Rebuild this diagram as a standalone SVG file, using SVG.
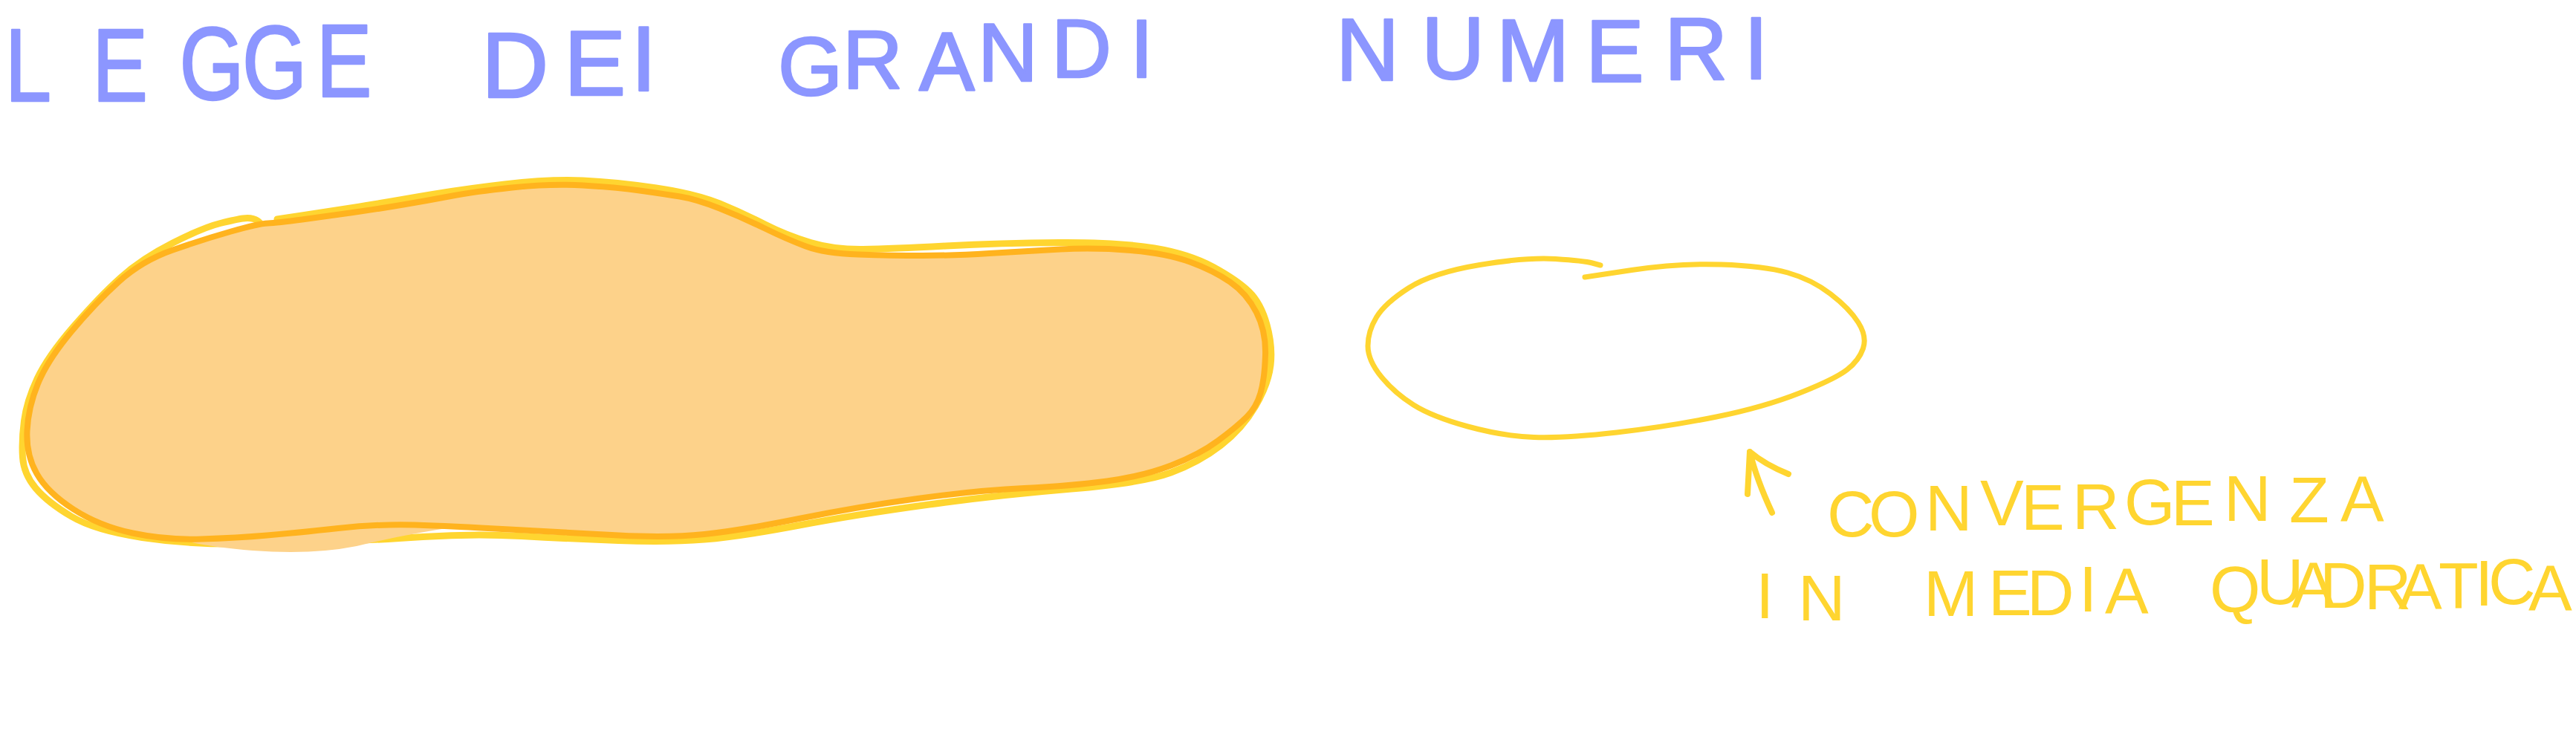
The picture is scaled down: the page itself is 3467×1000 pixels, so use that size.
<svg xmlns="http://www.w3.org/2000/svg" width="3467" height="1000" viewBox="0 0 3467 1000">
<style>
.title{fill:#8c96ff;stroke:#8c96ff;stroke-width:2.5px;stroke-linejoin:round;font-family:"Liberation Sans","DejaVu Sans",sans-serif;font-size:122px}
.note{fill:#ffd530;font-family:"Liberation Sans","DejaVu Sans",sans-serif;font-size:88px}
.ystroke{fill:none;stroke:#ffd530;stroke-linecap:round;stroke-linejoin:round}
.ostroke{fill:none;stroke:#ffb31e;stroke-linecap:round;stroke-linejoin:round}
.blobfill{fill:#fdd28a;stroke:none}
</style>
<rect width="3467" height="1000" fill="#ffffff"/>

<g id="title">
<text class="title" style="font-size:140px" transform="scale(0.8 1)" x="8.5 155.3 302 407.6 532.1" y="136 136 134 132 130">LEGGE</text>
<text class="title" style="font-size:125px" x="648 759 849" y="131 128 122">DEI</text>
<text class="title" style="font-size:112px" x="1047 1134 1237 1316 1415 1521" y="128 119 121 109 104 104">GRANDI</text>
<text class="title" style="font-size:118px" x="1798 1913 2014 2134 2240 2347" y="108 106 109 110 107 106">NUMERI</text>
</g>

<g id="blob">
<path class="ystroke" stroke-width="9" d="M373,295 L406.5,290 Q440,285 475,279.5 Q510,274 564.5,264.5 Q619,255 679.5,248 Q740,241 784.5,243 Q829,245 883,253 Q937,261 968.5,274 Q1000,287 1029.5,302 Q1059,317 1091,326.5 Q1123,336 1161.5,335.5 Q1200,335 1273,331 Q1346,327 1426,326.5 Q1506,326 1553.5,334 Q1601,342 1633,359.5 Q1665,377 1681,392.5 Q1697,408 1705,437 Q1713,466 1710,491.5 Q1707,517 1689.5,547 Q1672,577 1643,599.5 Q1614,622 1576,636 Q1538,650 1442,658 Q1346,666 1250.5,679 Q1155,692 1075.5,707 Q996,722 948,726 Q900,730 832.5,727.5 Q765,725 701.5,721.5 Q638,718 569,722.5 Q500,727 450,729 Q400,731 327.5,732 Q255,733 191.5,723.5 Q128,714 96,695 Q64,676 48,657 Q32,638 30.5,615.5 Q29,593 32.5,566.5 Q36,540 50,510 Q64,480 99,439.5 Q134,399 162.5,373.5 Q191,348 232.5,327 Q274,306 296.5,300.5 Q319,295 327,294 Q335,293 341,294.5 Q347,296 351,301"/>
<path class="blobfill" d="M360.5,300.5 Q373,300 406.5,295.5 Q440,291 475,286 Q510,281 542.5,275.5 Q575,270 606.5,264 Q638,258 689,252.5 Q740,247 784.5,249.5 Q829,252 861,256.5 Q893,261 915,264.5 Q937,268 968.5,280.5 Q1000,293 1029.5,307.5 Q1059,322 1084.5,331.5 Q1110,341 1155,342.5 Q1200,344 1241.5,344 Q1283,344 1331.5,341 Q1380,338 1427,335.5 Q1474,333 1522,337 Q1570,341 1601.5,352.5 Q1633,364 1655.5,379.5 Q1678,395 1691,420.5 Q1704,446 1703,478 Q1702,510 1696.5,529 Q1691,548 1678,561 Q1665,574 1639.5,593 Q1614,612 1576,626.5 Q1538,641 1490,647.5 Q1442,654 1378.5,657 Q1315,660 1235,671 Q1155,682 1075.5,698 Q996,714 948,719 Q900,724 832.5,720.5 Q765,717 685.5,712.5 Q606,708 558,706.5 Q510,705 455,711 Q400,717 359.5,720.5 Q319,724 271,725.5 Q223,727 178.5,717.5 Q134,708 99,685.5 Q64,663 49.5,637.5 Q35,612 36.5,580 Q38,548 51,516.5 Q64,485 96,446.5 Q128,408 159.5,379.5 Q191,351 232.5,336.5 Q274,322 311,311.5 Q348,301 360.5,300.5 Z"/>
<path class="blobfill" d="M620,708 Q540,720 480,735 Q420,747 340,741 Q290,737 258,730 L300,718 L500,700 Z"/>
<path class="ostroke" stroke-width="8" d="M360.5,300.5 Q373,300 406.5,295.5 Q440,291 475,286 Q510,281 542.5,275.5 Q575,270 606.5,264 Q638,258 689,252.5 Q740,247 784.5,249.5 Q829,252 861,256.5 Q893,261 915,264.5 Q937,268 968.5,280.5 Q1000,293 1029.5,307.5 Q1059,322 1084.5,331.5 Q1110,341 1155,342.5 Q1200,344 1241.5,344 Q1283,344 1331.5,341 Q1380,338 1427,335.5 Q1474,333 1522,337 Q1570,341 1601.5,352.5 Q1633,364 1655.5,379.5 Q1678,395 1691,420.5 Q1704,446 1703,478 Q1702,510 1696.5,529 Q1691,548 1678,561 Q1665,574 1639.5,593 Q1614,612 1576,626.5 Q1538,641 1490,647.5 Q1442,654 1378.5,657 Q1315,660 1235,671 Q1155,682 1075.5,698 Q996,714 948,719 Q900,724 832.5,720.5 Q765,717 685.5,712.5 Q606,708 558,706.5 Q510,705 455,711 Q400,717 359.5,720.5 Q319,724 271,725.5 Q223,727 178.5,717.5 Q134,708 99,685.5 Q64,663 49.5,637.5 Q35,612 36.5,580 Q38,548 51,516.5 Q64,485 96,446.5 Q128,408 159.5,379.5 Q191,351 232.5,336.5 Q274,322 311,311.5 Q348,301 360.5,300.5 Z"/>
</g>

<g id="ellipse">
<path class="ystroke" stroke-width="7" d="M2133,373 L2196,363.5 Q2259,354 2316.5,356 Q2374,358 2406,367 Q2438,376 2463.5,395.5 Q2489,415 2501,434 Q2513,453 2507.5,469 Q2502,485 2486,497.5 Q2470,510 2422,529 Q2374,548 2310,561 Q2246,574 2176,582 Q2106,590 2064.5,588.5 Q2023,587 1975.5,574 Q1928,561 1902.5,545 Q1877,529 1859,507 Q1841,485 1841,465.5 Q1841,446 1852.5,427 Q1864,408 1896,387.5 Q1928,367 1991.5,356.5 Q2055,346 2093.5,348.5 Q2132,351 2143,354 L2154,357"/>
</g>

<g id="connectors">
<path class="ystroke" stroke-width="8" d="M2385,690 Q2364,645 2355,608 M2352,665 L2355,608 Q2375,625 2407,638"/>
</g>

<g id="label">
<text class="note" x="2459 2515 2591 2665 2720 2789 2859 2922 2993 3081 3150" y="722 722 714 707 713 712 706 707 701 703 702">CONVERGENZA</text>
<text class="note" x="2363 2420" y="832 835">IN</text>
<text class="note" x="2589 2676 2728 2798 2833" y="829 828 828 823 826">MEDIA</text>
<text class="note" x="2974 3037 3084 3122 3182 3228 3282 3331 3349 3403" y="824 813 818 818 820 820 818 815 813 822">QUADRATICA</text>
</g>
</svg>
